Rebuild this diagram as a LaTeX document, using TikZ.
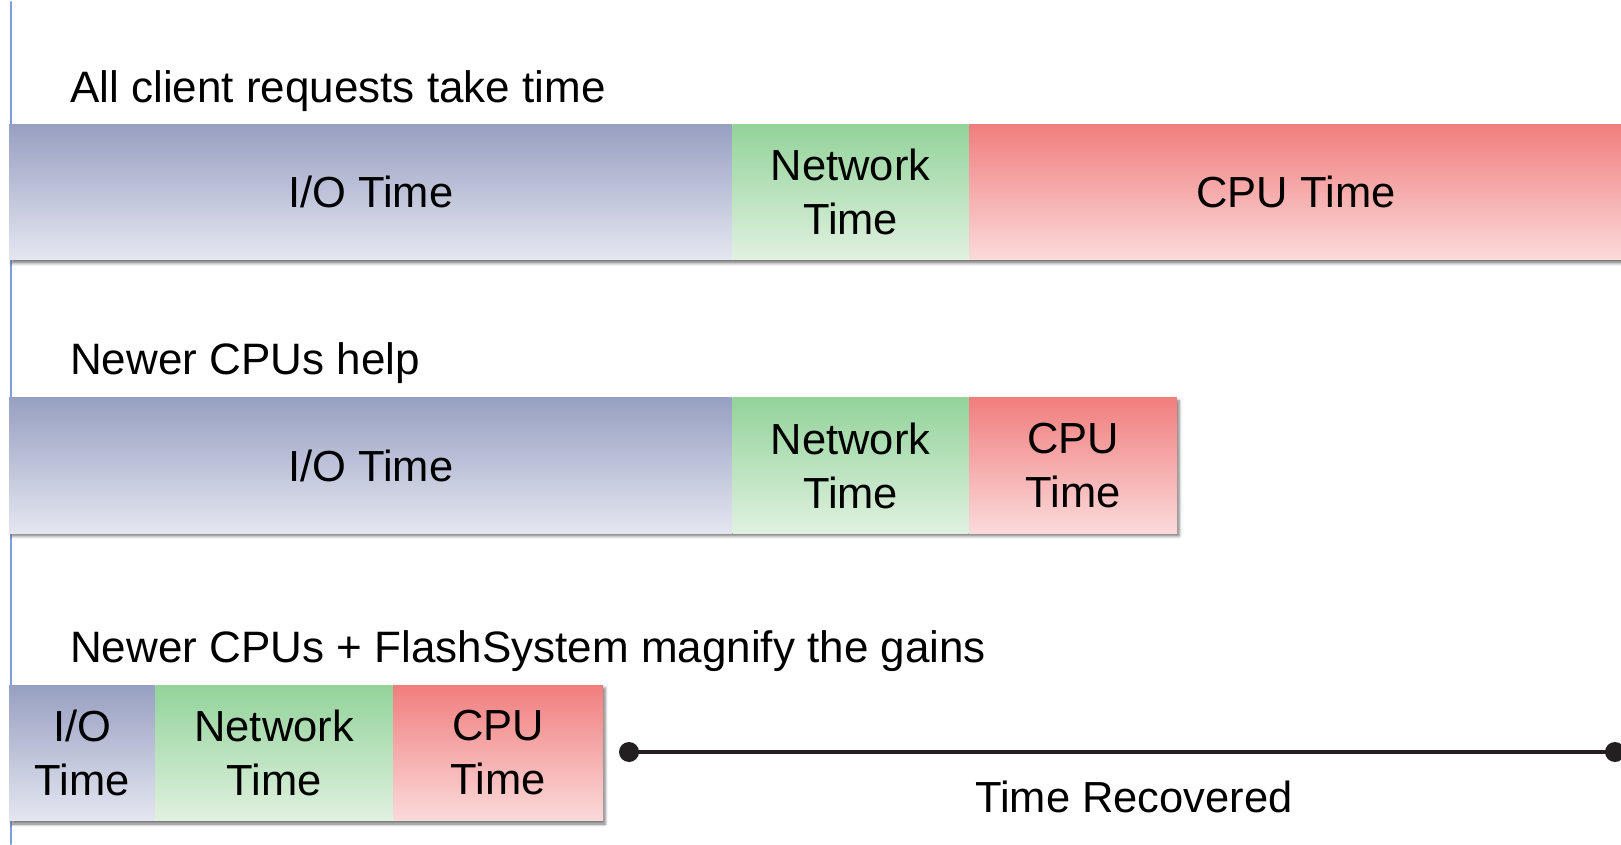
\documentclass[tikz,border=0pt]{standalone}
\usepackage{fontspec}
\setmainfont{Liberation Sans}
\usetikzlibrary{positioning,shadows.blur}

\definecolor{ioTop}{HTML}{98A0C2}
\definecolor{ioBot}{HTML}{E4E6F0}
\definecolor{netTop}{HTML}{93D39A}
\definecolor{netBot}{HTML}{E0F1E0}
\definecolor{cpuTop}{HTML}{F17E7E}
\definecolor{cpuBot}{HTML}{FBDADA}
\definecolor{rule}{HTML}{7F9DD8}
\definecolor{recov}{HTML}{231F20}

\tikzset{
  seg/.style={rectangle, inner sep=0pt, minimum height=135pt, align=center,
    font=\fontsize{43.5}{54}\selectfont},
  io/.style={seg, top color=ioTop, bottom color=ioBot},
  net/.style={seg, top color=netTop, bottom color=netBot},
  cpu/.style={seg, top color=cpuTop, bottom color=cpuBot},
  bar/.style={fill=white, blur shadow={shadow xshift=3pt, shadow yshift=-3pt,
    shadow blur radius=3pt, shadow opacity=55}},
  title/.style={anchor=west, inner sep=0pt, font=\fontsize{44}{52}\selectfont},
}

\begin{document}
\begin{tikzpicture}[x=1pt, y=1pt, line cap=round]
  \useasboundingbox (0,0) rectangle (1621,844);
  \draw[line width=2pt, rule] (10.5,0) -- (10.5,842);

  % all requests
  \node[title] (t1) at (70,753) {All client requests take time};
  \path[bar] (9,584) rectangle (1622,720);
  \node[io, minimum width=723pt, anchor=west] (io1) at (9,652) {I/O Time};
  \node[net, minimum width=236pt, right=0pt of io1] (net1) {Network\\Time};
  \node[cpu, minimum width=654pt, right=0pt of net1] (cpu1) {CPU Time};

  % newer cpus
  \node[title] (t2) at (70,481) {Newer CPUs help};
  \path[bar] (9,311) rectangle (1176,446);
  \node[io, minimum width=723pt, anchor=west] (io2) at (9,378.5) {I/O Time};
  \node[net, minimum width=236pt, right=0pt of io2] (net2) {Network\\Time};
  \node[cpu, minimum width=208pt, right=0pt of net2] (cpu2) {CPU\\Time};

  % cpus + flash
  \node[title] (t3) at (70,193) {Newer CPUs + FlashSystem magnify the gains};
  \path[bar] (9,23) rectangle (602,159);
  \node[io, minimum width=146pt, anchor=west] (io3) at (9,91) {I/O\\Time};
  \node[net, minimum width=237pt, right=0pt of io3] (net3) {Network\\Time};
  \node[cpu, minimum width=210pt, right=0pt of net3] (cpu3) {CPU\\Time};

  \coordinate (r0) at (629,92);
  \coordinate (r1) at (1615,92);
  \draw[line width=4pt, recov] (r0) -- (r1);
  \foreach \p in {r0,r1} \fill[recov] (\p) circle (10pt);
  \node[font=\fontsize{43.5}{52}\selectfont] (rec) at (1134,47) {Time Recovered};
\end{tikzpicture}
\end{document}
